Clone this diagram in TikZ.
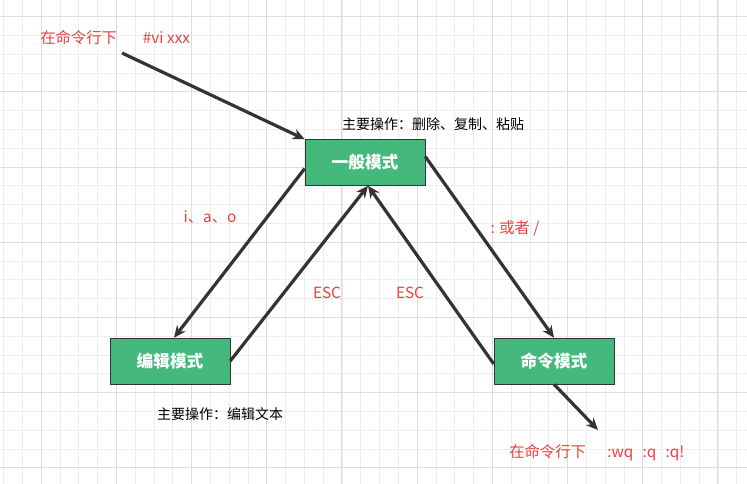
\documentclass[tikz,border=0pt]{standalone}
\usepackage{fontspec}
\setmainfont{Noto Sans CJK SC}
\usetikzlibrary{arrows.meta}
\definecolor{gm}{HTML}{DCDCDC}
\definecolor{gn}{HTML}{EDEDED}
\definecolor{boxg}{HTML}{45B97C}
\definecolor{rd}{HTML}{EE3F3F}
\definecolor{ln}{HTML}{333333}
\begin{document}
\begin{tikzpicture}[x=0.75pt,y=-0.75pt,
  mode/.style={draw=ln,fill=boxg,minimum width=90pt,minimum height=34.5pt,inner sep=0pt,text=white,font=\bfseries\fontsize{12.5}{13}\selectfont},
  lbl/.style={text=rd,font=\fontsize{11.5}{13}\selectfont,inner sep=0pt},
  blk/.style={text=black,font=\fontsize{10.5}{13}\selectfont,inner sep=0pt},
  arr/.style={draw=ln,line width=2.4pt,-{Stealth[length=9pt,width=8pt]}}]
\useasboundingbox (0,0) rectangle (747,484);
\fill[white] (0,0) rectangle (747,484);
\foreach \i in {0,...,40}{\draw[gn,line width=0.6pt] (3.5+18.8*\i,0) -- (3.5+18.8*\i,484);}
\foreach \i in {0,...,26}{\draw[gn,line width=0.6pt] (0,16.7+18.8*\i-18.8) -- (747,16.7+18.8*\i-18.8);}
\foreach \i in {0,...,10}{\draw[gm,line width=0.8pt] (41.1+75.2*\i,0) -- (41.1+75.2*\i,484);}
\foreach \i in {0,...,7}{\draw[gm,line width=0.8pt] (0,16.7+75.2*\i) -- (747,16.7+75.2*\i);}
\node[mode] (gen) at (365,162.5) {一般模式};
\node[mode] (edit) at (170,361) {编辑模式};
\node[mode] (cmd) at (554,361) {命令模式};
\coordinate (start) at (122,53);
\coordinate (endp) at (598,430);
\node[lbl,anchor=west] (t1) at (40,38) {在命令行下\hspace{1.7em}\#vi xxx};
\node[blk] (t2) at (433,124) {主要操作：删除、复制、粘贴};
\node[lbl] (t3) at (210,217) {i、a、o};
\node[lbl] (t4) at (515,228) {: 或者 /};
\node[lbl] (t5) at (327,293) {ESC};
\node[lbl] (t6) at (410,293) {ESC};
\node[blk] (t7) at (220,414) {主要操作：编辑文本};
\node[lbl,anchor=west] (t8) at (509,453) {在命令行下\hspace{1.4em}:wq\hspace{0.6em}:q\hspace{0.6em}:q!};
\draw[arr] (start) -- (gen.north west);
\draw[arr] (gen.west) ++(0,6) -- ([xshift=3]edit.north);
\draw[arr] (edit.east) -- ([xshift=2.25pt]gen.south);
\draw[arr] ([yshift=-2.25pt]cmd.west) -- ([xshift=2.25pt]gen.south);
\draw[arr] ([yshift=4.5pt]gen.east) -- (cmd.north);
\draw[arr] (cmd.south) -- (endp);
\end{tikzpicture}
\end{document}
